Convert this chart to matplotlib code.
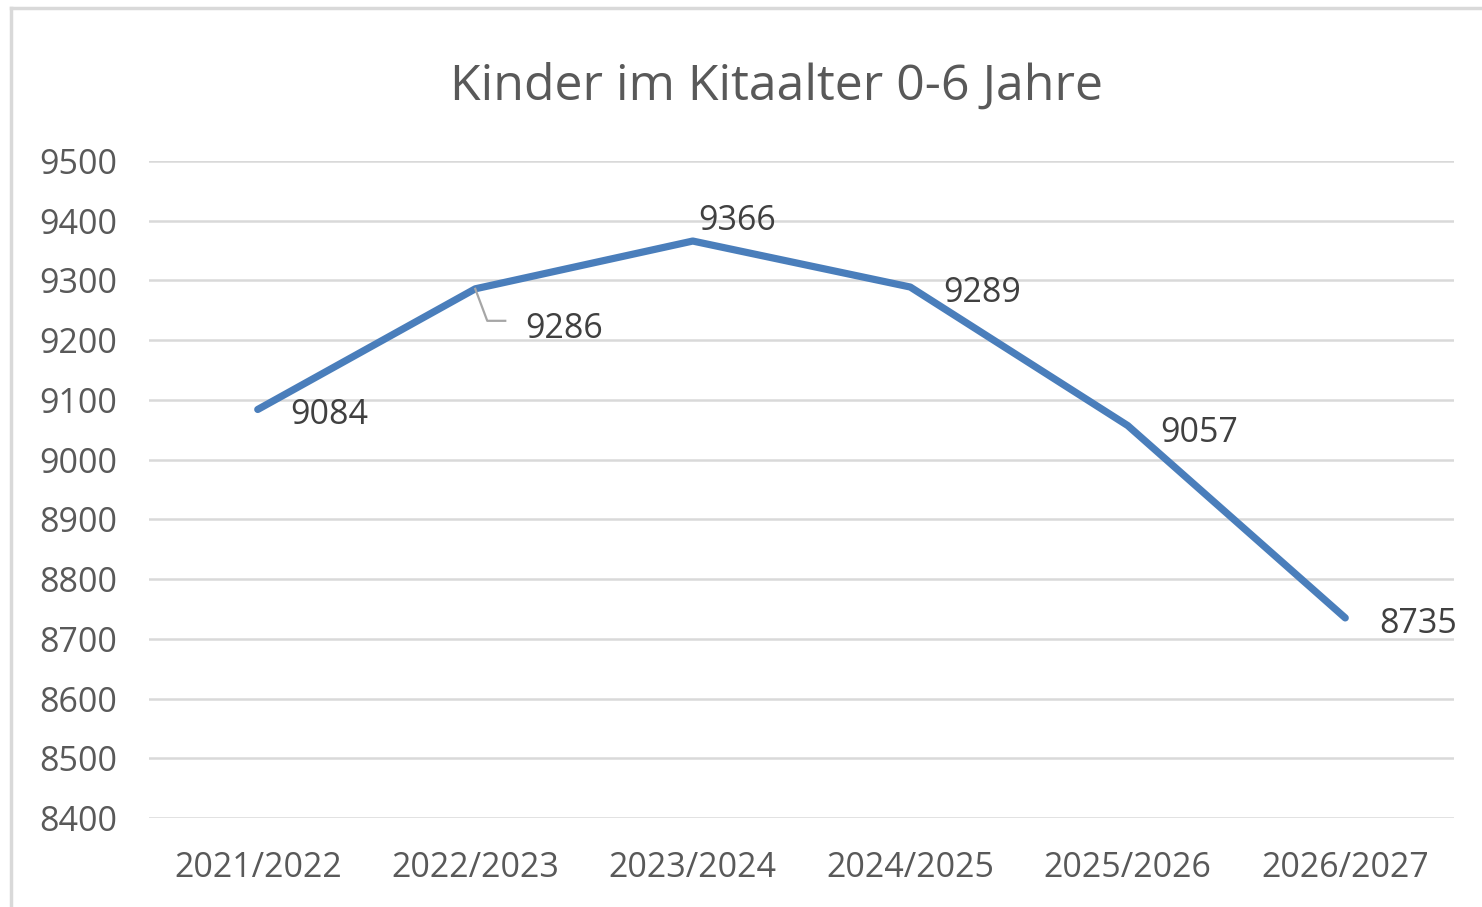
import numpy as np
import matplotlib.pyplot as plt
from matplotlib.lines import Line2D

# data
jahre = ["2021/2022", "2022/2023", "2023/2024", "2024/2025", "2025/2026", "2026/2027"]
kinder = [9084, 9286, 9366, 9289, 9057, 8735]
y_ticks = list(range(8400, 9501, 100))

txt = '#595959'
lbl = '#404040'
blue = '#4A7EBB'
grid = '#D9D9D9'
font = 'Open Sans'
fs = 24.5

fig = plt.figure(figsize=(14.82, 9.07), dpi=100)
ax = fig.add_axes([149/1482, 89/907, 1305/1482, 657/907])

x = np.arange(len(jahre))
ax.plot(x, kinder, color=blue, lw=5.2, solid_capstyle='round', solid_joinstyle='round', zorder=3)

ax.set_xlim(-0.5, len(jahre) - 0.5)
ax.set_ylim(y_ticks[0], y_ticks[-1])
ax.set_yticks(y_ticks)
ax.set_xticks(x)
ax.set_xticklabels(jahre)
ax.grid(axis='y', color=grid, lw=1.8)
ax.set_axisbelow(True)
for s in ax.spines.values():
    s.set_visible(False)
ax.tick_params(length=0, labelsize=fs, labelcolor=txt)
ax.tick_params(axis='y', pad=23)
ax.tick_params(axis='x', pad=24)
for t in ax.get_xticklabels() + ax.get_yticklabels():
    t.set_fontfamily(font)

fig.text(777/1482, 1 - 87/907, "Kinder im Kitaalter 0-6 Jahre", fontsize=36,
         color=txt, family=font, ha='center', va='center')

# data labels (offsets in pixels)
offsets = [(33, -6, 'left'), (50, -40, 'left'), (44, 20, 'center'),
           (33, -6, 'left'), (33, -7, 'left'), (34, -6, 'left')]
for xi, v, (dx, dy, ha) in zip(x, kinder, offsets):
    ax.annotate(str(v), (xi, v), xytext=(dx, dy), textcoords='offset pixels',
                ha=ha, va='center', fontsize=fs, color=lbl, family=font)

# leader line for the 2022/2023 label
px, py = ax.transData.transform((x[1], kinder[1]))
lead = Line2D([px, px + 12, px + 30], [py, py - 32, py - 32], transform=None,
              color='#A6A6A6', lw=1.6, zorder=2)
fig.add_artist(lead)

# chart area border (left and top visible)
fig.add_artist(Line2D([11/1482, 11/1482], [0, 1 - 8/907], transform=fig.transFigure, color=grid, lw=2.5))
fig.add_artist(Line2D([11/1482, 1], [1 - 8/907, 1 - 8/907], transform=fig.transFigure, color=grid, lw=2.5))

fig.savefig('out.png', dpi=100)
